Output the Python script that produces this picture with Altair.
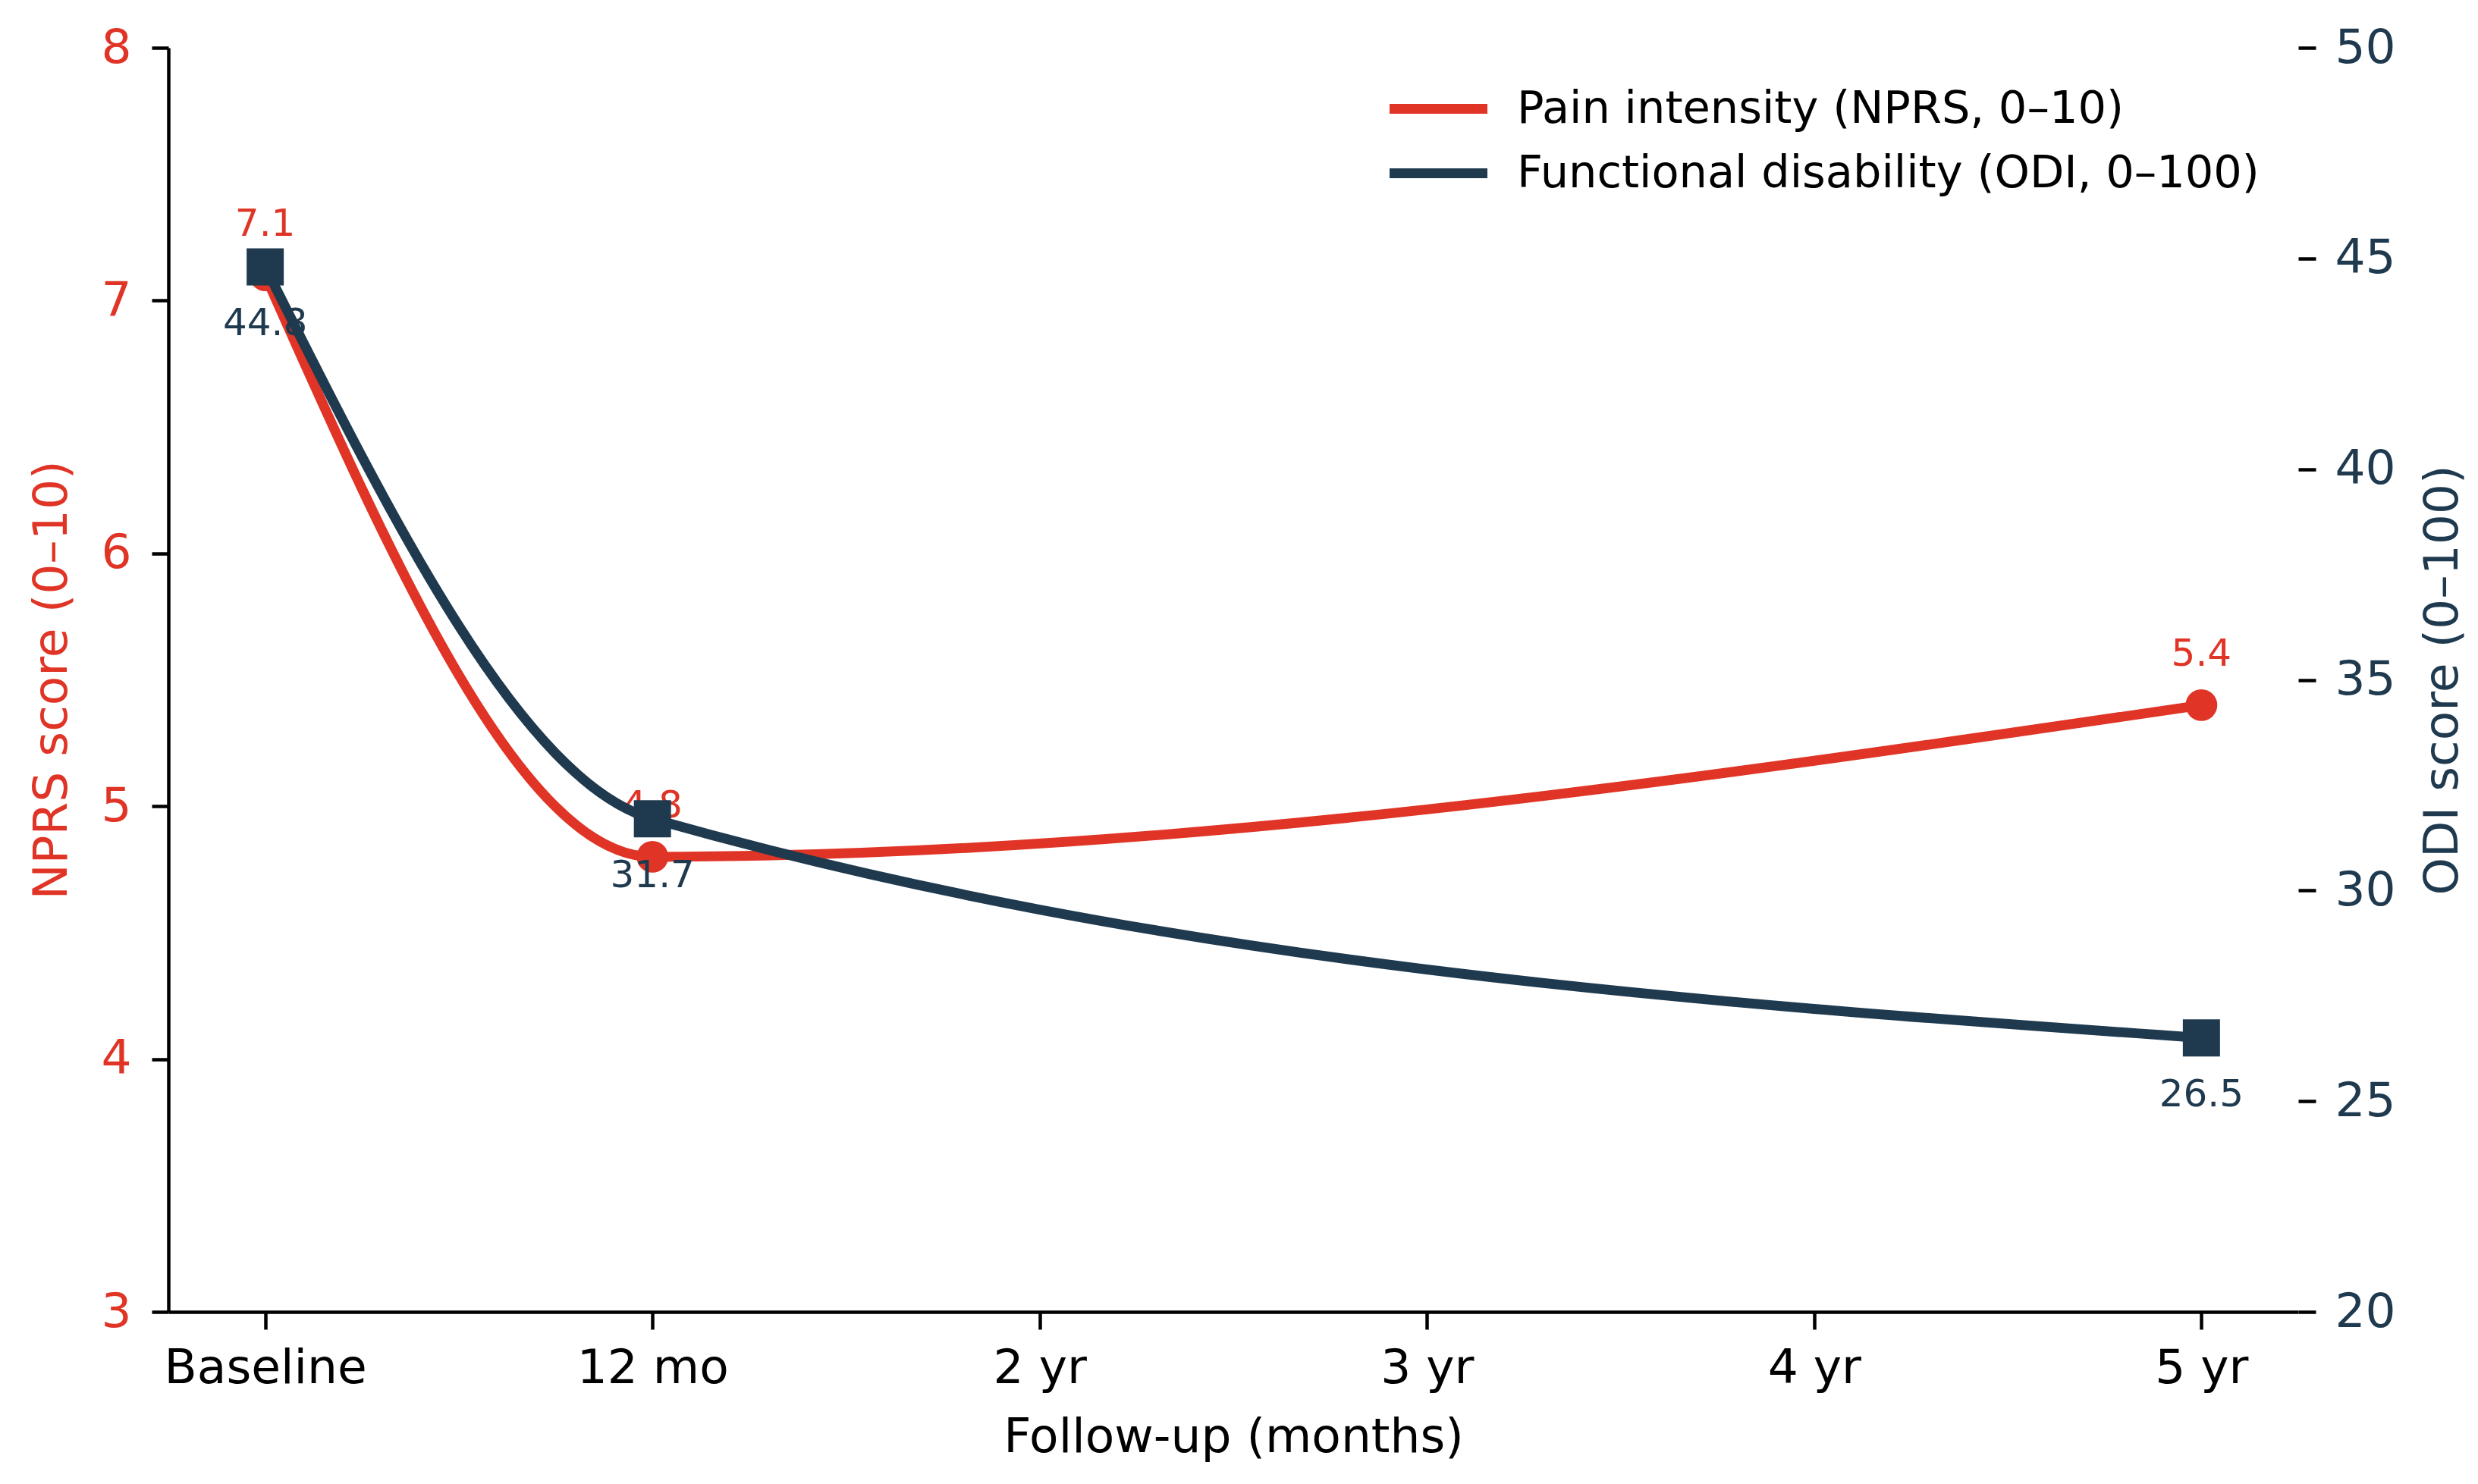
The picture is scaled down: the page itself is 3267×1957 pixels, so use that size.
import altair as alt
import pandas as pd

# ---- data ----
categories = ["Baseline", "12 mo", "2 yr", "3 yr", "4 yr", "5 yr"]
measured = ["Baseline", "12 mo", "5 yr"]
nprs = [7.1, 4.8, 5.4]
odi = [44.8, 31.7, 26.5]
series_names = ["Pain intensity (NPRS, 0–10)", "Functional disability (ODI, 0–100)"]
series_colors = ["#E03526", "#1F3A4F"]
nprs_ticks = [3, 4, 5, 6, 7, 8]
odi_ticks = [20, 25, 30, 35, 40, 45, 50]

RED, NAVY = series_colors
FONT = "DejaVu Sans"

df_n = pd.DataFrame({"time": measured, "score": nprs, "series": series_names[0]})
df_o = pd.DataFrame({"time": measured, "score": odi, "series": series_names[1]})

x_enc = alt.X(
    "time:N",
    scale=alt.Scale(type="point", domain=categories, padding=0.25),
    axis=alt.Axis(
        title="Follow-up (months)", labelAngle=0, labelPadding=20,
        titlePadding=28, tickSize=23,
    ),
)

legend = alt.Legend(
    orient="none", legendX=1642, legendY=48,
    symbolType="M-2.5,0H2.5", symbolSize=2663, symbolStrokeWidth=13,
    labelOffset=71, labelFontSize=59, labelFont=FONT, labelColor="black",
    labelLimit=0, rowPadding=22, padding=0,
)
color_enc = alt.Color(
    "series:N", title=None,
    scale=alt.Scale(domain=series_names, range=series_colors),
    legend=legend,
)

y_left = alt.Y(
    "score:Q",
    scale=alt.Scale(domain=[3, 8], nice=False, zero=False),
    axis=alt.Axis(
        orient="left", values=nprs_ticks, title="NPRS score (0–10)",
        labelColor=RED, titleColor=RED, labelPadding=27, titlePadding=32,
        tickSize=22,
    ),
)
y_right = alt.Y(
    "score:Q",
    scale=alt.Scale(domain=[20, 50], nice=False, zero=False),
    axis=alt.Axis(
        orient="right", values=odi_ticks, title="ODI score (0–100)",
        labelColor=NAVY, titleColor=NAVY, labelPadding=25, titlePadding=31,
        tickSize=23, domain=False, titleAngle=270, titleBaseline="top",
    ),
)

base_n = alt.Chart(df_n).encode(x=x_enc, y=y_left)
base_o = alt.Chart(df_o).encode(x=x_enc, y=y_right)

red_pts = base_n.mark_point(shape="circle", filled=True, size=1750, color=RED, opacity=1)
red_txt = base_n.mark_text(
    dy=-52, fontSize=50, font=FONT, color=RED, baseline="alphabetic", align="center"
).encode(text=alt.Text("score:Q", format=".1f"))
red_line = base_n.mark_line(interpolate="monotone", strokeWidth=13).encode(color=color_enc)

navy_txt = base_o.mark_text(
    dy=90, fontSize=50, font=FONT, color=NAVY, baseline="alphabetic", align="center"
).encode(text=alt.Text("score:Q", format=".1f"))
navy_line = base_o.mark_line(interpolate="monotone", strokeWidth=13).encode(color=color_enc)
navy_pts = base_o.mark_point(shape="square", filled=True, size=2400, color=NAVY, opacity=1)

red_group = alt.layer(red_pts, red_txt, red_line)
navy_group = alt.layer(navy_txt, navy_line, navy_pts)

chart = (
    alt.layer(red_group, navy_group)
    .resolve_scale(y="independent")
    .properties(
        width=2808, height=1667,
        autosize=alt.AutoSizeParams(type="none"),
        padding={"left": 214, "top": 55, "right": 229, "bottom": 200},
        background="white",
    )
    .configure_view(strokeWidth=0)
    .configure_axis(
        labelFont=FONT, titleFont=FONT, labelFontSize=63, titleFontSize=63,
        titleFontWeight="normal", grid=False, domainColor="black",
        domainWidth=4.5, tickColor="black", tickWidth=4.5, labelColor="black",
        titleColor="black", labelLimit=0,
    )
)

chart.save("out.html", embed_options={"renderer": "svg", "actions": False})
